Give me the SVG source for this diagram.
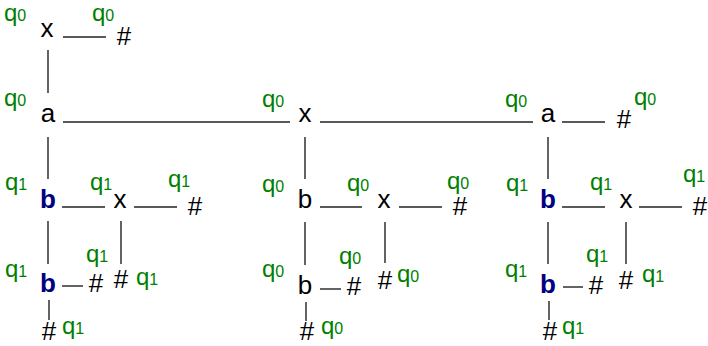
<svg xmlns="http://www.w3.org/2000/svg" width="708" height="346" viewBox="0 0 708 346">
  <style>
    text { font-family: "Liberation Sans", Arial, sans-serif; }
    .n { font-size: 26px; fill: #000; text-anchor: middle; }
    .b { font-size: 26px; fill: #000080; font-weight: bold; text-anchor: middle; }
    .q { font-size: 24px; fill: #008000; }
    .q tspan { font-size: 16px; }
    .e line { stroke: #222; stroke-width: 1.4; }
  </style>
  <rect width="708" height="346" fill="#fff"/>

  <!-- connectors -->
  <g id="edges" class="e">
    <line x1="63" y1="37" x2="106" y2="37"/>
    <line x1="48" y1="50" x2="48" y2="93"/>
    <line x1="63" y1="122" x2="290" y2="122"/>
    <line x1="320" y1="122" x2="533" y2="122"/>
    <line x1="562" y1="122" x2="605" y2="122"/>
    <line x1="48" y1="137" x2="48" y2="179"/>
    <line x1="305" y1="137" x2="305" y2="179"/>
    <line x1="548" y1="137" x2="548" y2="179"/>
    <line x1="62" y1="207" x2="105" y2="207"/>
    <line x1="134" y1="207" x2="177" y2="207"/>
    <line x1="320" y1="207" x2="362" y2="207"/>
    <line x1="399" y1="207" x2="442" y2="207"/>
    <line x1="562" y1="207" x2="605" y2="207"/>
    <line x1="639" y1="207" x2="682" y2="207"/>
    <line x1="48" y1="221" x2="48" y2="264"/>
    <line x1="121" y1="221" x2="121" y2="264"/>
    <line x1="305" y1="222" x2="305" y2="265"/>
    <line x1="385" y1="222" x2="385" y2="263"/>
    <line x1="548" y1="222" x2="548" y2="264"/>
    <line x1="626" y1="222" x2="626" y2="264"/>
    <line x1="62" y1="286" x2="83" y2="286"/>
    <line x1="320" y1="289" x2="341" y2="289"/>
    <line x1="563" y1="287" x2="583" y2="287"/>
    <line x1="49" y1="300" x2="49" y2="320"/>
    <line x1="306" y1="302" x2="306" y2="321"/>
    <line x1="549" y1="301" x2="549" y2="320"/>
  </g>

  <!-- top-left branch -->
  <g id="n-x0"><text class="q" x="4" y="21">q<tspan>0</tspan></text><text class="n" x="47" y="37">x</text></g>
  <g id="n-h0"><text class="q" x="92" y="21">q<tspan>0</tspan></text><text class="n" x="124" y="45">#</text></g>
  <g id="n-a0"><text class="q" x="4" y="106">q<tspan>0</tspan></text><text class="n" x="48" y="122">a</text></g>

  <!-- spine -->
  <g id="n-x1"><text class="q" x="262" y="107">q<tspan>0</tspan></text><text class="n" x="305" y="122">x</text></g>
  <g id="n-a1"><text class="q" x="505" y="107">q<tspan>0</tspan></text><text class="n" x="548" y="122">a</text></g>
  <g id="n-h1"><text class="q" x="634" y="105">q<tspan>0</tspan></text><text class="n" x="624" y="128">#</text></g>

  <!-- left subtree -->
  <g id="n-b0"><text class="q" x="5" y="190">q<tspan>1</tspan></text><text class="b" x="48" y="208">b</text></g>
  <g id="n-x2"><text class="q" x="90" y="190">q<tspan>1</tspan></text><text class="n" x="120" y="208">x</text></g>
  <g id="n-h2"><text class="q" x="168" y="187">q<tspan>1</tspan></text><text class="n" x="195" y="215">#</text></g>
  <g id="n-b1"><text class="q" x="5" y="277">q<tspan>1</tspan></text><text class="b" x="48" y="292">b</text></g>
  <g id="n-h3"><text class="q" x="86" y="262">q<tspan>1</tspan></text><text class="n" x="96" y="292">#</text></g>
  <g id="n-h4"><text class="n" x="121" y="288">#</text><text class="q" x="136" y="285">q<tspan>1</tspan></text></g>
  <g id="n-h5"><text class="n" x="49" y="340">#</text><text class="q" x="62" y="334">q<tspan>1</tspan></text></g>

  <!-- middle subtree -->
  <g id="n-b2"><text class="q" x="262" y="192">q<tspan>0</tspan></text><text class="n" x="305" y="208">b</text></g>
  <g id="n-x3"><text class="q" x="347" y="191">q<tspan>0</tspan></text><text class="n" x="384" y="208">x</text></g>
  <g id="n-h6"><text class="q" x="447" y="189">q<tspan>0</tspan></text><text class="n" x="460" y="215">#</text></g>
  <g id="n-b3"><text class="q" x="262" y="277">q<tspan>0</tspan></text><text class="n" x="305" y="294">b</text></g>
  <g id="n-h7"><text class="q" x="339" y="264">q<tspan>0</tspan></text><text class="n" x="354" y="295">#</text></g>
  <g id="n-h8"><text class="n" x="385" y="289">#</text><text class="q" x="397" y="282">q<tspan>0</tspan></text></g>
  <g id="n-h9"><text class="n" x="307" y="340">#</text><text class="q" x="321" y="334">q<tspan>0</tspan></text></g>

  <!-- right subtree -->
  <g id="n-b4"><text class="q" x="506" y="191">q<tspan>1</tspan></text><text class="b" x="548" y="208">b</text></g>
  <g id="n-x4"><text class="q" x="590" y="190">q<tspan>1</tspan></text><text class="n" x="626" y="208">x</text></g>
  <g id="n-h10"><text class="q" x="683" y="182">q<tspan>1</tspan></text><text class="n" x="700" y="215">#</text></g>
  <g id="n-b5"><text class="q" x="505" y="277">q<tspan>1</tspan></text><text class="b" x="548" y="293">b</text></g>
  <g id="n-h11"><text class="q" x="586" y="262">q<tspan>1</tspan></text><text class="n" x="596" y="294">#</text></g>
  <g id="n-h12"><text class="n" x="626" y="289">#</text><text class="q" x="642" y="282">q<tspan>1</tspan></text></g>
  <g id="n-h13"><text class="n" x="550" y="340">#</text><text class="q" x="562" y="334">q<tspan>1</tspan></text></g>
</svg>
